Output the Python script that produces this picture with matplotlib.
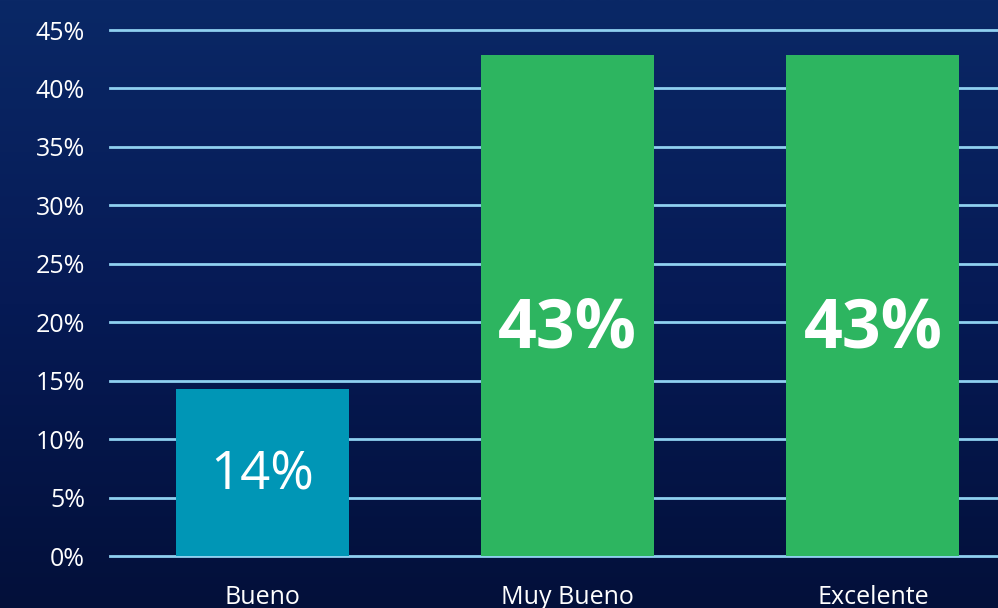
import numpy as np
import matplotlib.pyplot as plt

categories = ["Bueno", "Muy Bueno", "Excelente"]
values = [14.29, 42.86, 42.86]
bar_labels = ["14%", "43%", "43%"]
bar_colors = ["#0096b6", "#2db560"]
yticks = [0, 5, 10, 15, 20, 25, 30, 35, 40, 45]

plt.rcParams['font.family'] = ['Open Sans', 'DejaVu Sans']

fig = plt.figure(figsize=(9.98, 6.08), dpi=100)
fig.patch.set_facecolor("#071a4a")

# background shading
bg = fig.add_axes([0, 0, 1, 1], zorder=-1)
grad = np.linspace(0, 1, 256).reshape(-1, 1)
bg.imshow(grad, aspect="auto", cmap=plt.matplotlib.colors.LinearSegmentedColormap.from_list(
    "bg", ["#0a2866", "#061a55", "#03103a"]), extent=[0, 1, 0, 1])
bg.axis("off")

ax = fig.add_axes([110 / 998, 52 / 608, 888 / 998, 526 / 608])
ax.set_facecolor("none")

x = np.arange(len(categories))
colors = [bar_colors[0], bar_colors[1], bar_colors[1]]
bars = ax.bar(x, values, width=0.567, color=colors, zorder=3)

for b, lab, v in zip(bars, bar_labels, values):
    bold = v > 30
    ax.text(b.get_x() + b.get_width() / 2, 19.4 if bold else 6.9, lab,
            ha="center", va="center", color="white",
            fontsize=49 if bold else 38, fontweight="bold" if bold else "normal", zorder=4)

ax.set_xlim(-0.5, 2.41)
ax.set_ylim(0, 45)
ax.set_yticks(yticks)
ax.set_yticklabels([f"{t}%" for t in yticks])
ax.yaxis.grid(True, color="#8fd0f0", linewidth=2, zorder=1)
for gl in ax.get_ygridlines():
    gl.set_clip_on(False)
ax.set_xticks(x)
ax.set_xticklabels(categories)
ax.tick_params(axis="both", length=0, colors="white", labelsize=18)
ax.tick_params(axis="y", pad=18)
ax.tick_params(axis="x", pad=21)
for s in ax.spines.values():
    s.set_visible(False)

fig.savefig("out.png", dpi=100, facecolor=fig.get_facecolor())
